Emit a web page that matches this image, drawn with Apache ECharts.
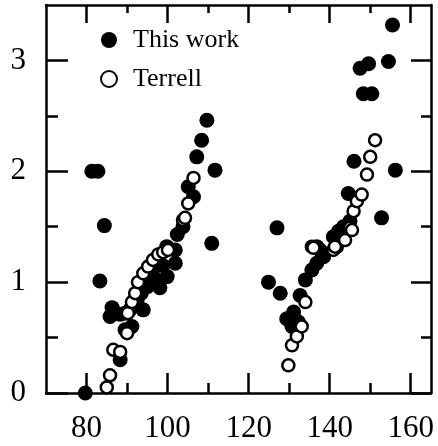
<!DOCTYPE html>
<html><head><meta charset="utf-8">
<script src="https://cdn.jsdelivr.net/npm/echarts@6/dist/echarts.min.js"></script>
<style>html,body{margin:0;padding:0;background:#fff}#c{width:438px;height:446px}</style>
</head><body><div id="c"></div>
<script>
const seriesNames = ['This work', 'Terrell'];
const xMajorTicks = [80, 100, 120, 140, 160];
const xMinorTicks = [90, 110, 130, 150];
const yMajorTicks = [0, 1, 2, 3];
const yMinorTicks = [0.5, 1.5, 2.5];

const thisWork = [
  [79.7, 0.0], [81.3, 2.0], [82.8, 2.0], [84.4, 1.51], [83.3, 1.01],
  [85.8, 0.69], [86.3, 0.77], [87.3, 0.72], [88.3, 0.71], [89.5, 0.72], [89.5, 0.57], [91.2, 0.6],
  [88.3, 0.30], [90.7, 0.75], [92.5, 0.84], [93.5, 0.9], [94.0, 0.75], [95.0, 0.96], [96.5, 1.05],
  [95.8, 1.14], [97.2, 1.0], [98.1, 0.95], [98.8, 1.15], [99.9, 1.05], [101.9, 1.17], [101.9, 1.29],
  [102.4, 1.43], [103.8, 1.5], [99.8, 1.32], [105.1, 1.86], [106.4, 1.77], [107.2, 2.13],
  [108.4, 2.28], [109.7, 2.46], [111.7, 2.01], [110.9, 1.35],
  [124.9, 1.0], [127.8, 0.9], [127.0, 1.49], [129.4, 0.67], [131.1, 0.73], [132.3, 0.64],
  [130.7, 0.6], [132.7, 0.88], [134.0, 1.02], [135.6, 1.11], [136.8, 1.17], [137.6, 1.29],
  [136.8, 1.32], [138.5, 1.23], [140.9, 1.41], [141.7, 1.32], [142.2, 1.46], [143.4, 1.5],
  [145.0, 1.55], [144.6, 1.8], [146.0, 2.09], [152.8, 1.58], [147.5, 2.93], [149.6, 2.97],
  [154.5, 2.99], [155.5, 3.32], [148.3, 2.7], [150.4, 2.7], [156.2, 2.01]
];
const terrell = [
  [85.0, 0.05], [85.8, 0.16], [86.6, 0.39], [88.3, 0.37], [90.0, 0.54], [90.2, 0.72],
  [91.2, 0.82], [92.0, 0.9], [92.7, 1.0], [94.0, 1.08], [95.2, 1.14], [96.4, 1.2], [97.7, 1.25],
  [98.9, 1.27], [100.1, 1.29], [103.8, 1.56], [104.3, 1.58], [105.1, 1.71], [106.4, 1.94],
  [129.8, 0.25], [130.7, 0.43], [131.9, 0.51], [133.1, 0.6], [134.0, 0.82], [135.6, 1.32],
  [136.0, 1.31], [140.9, 1.29], [141.3, 1.32], [143.8, 1.38], [145.0, 1.49], [145.5, 1.47],
  [145.9, 1.64], [146.7, 1.73], [147.9, 1.79], [149.2, 1.97], [150.0, 2.13], [151.2, 2.28]
];

const FONT = '"Liberation Serif", "Times New Roman", serif';
const X_MIN = 70, X_MAX = 165, Y_MIN = 0, Y_MAX = 3.5;

function xAx(pos, ticks, len, showLabel, showLine) {
  return {
    type: 'value', position: pos, min: X_MIN, max: X_MAX,
    axisLine: { show: showLine, onZero: false, lineStyle: { color: '#000', width: 2.5 } },
    axisTick: { show: true, inside: true, length: len, customValues: ticks, lineStyle: { color: '#000', width: 2.5 } },
    axisLabel: showLabel ? { show: true, customValues: ticks, color: '#000', fontFamily: FONT, fontSize: 31, margin: 20 } : { show: false },
    splitLine: { show: false }
  };
}
function yAx(pos, ticks, len, showLabel, showLine) {
  return {
    type: 'value', position: pos, min: Y_MIN, max: Y_MAX,
    axisLine: { show: showLine, onZero: false, lineStyle: { color: '#000', width: 2.5 } },
    axisTick: { show: true, inside: true, length: len, customValues: ticks, lineStyle: { color: '#000', width: 2.5 } },
    axisLabel: showLabel ? { show: true, customValues: ticks, color: '#000', fontFamily: FONT, fontSize: 31, margin: 20 } : { show: false },
    splitLine: { show: false }
  };
}

const chart = echarts.init(document.getElementById('c'), null, { renderer: 'canvas' });
chart.setOption({
  animation: false,
  backgroundColor: '#fff',
  grid: { left: 46, right: 7, top: 5, bottom: 53 },
  legend: {
    left: 95, top: 22, orient: 'vertical', itemGap: 13,
    itemWidth: 16, itemHeight: 16,
    textStyle: { color: '#000', fontFamily: FONT, fontSize: 26, padding: [2, 0, 0, 11] },
    data: seriesNames
  },
  xAxis: [
    xAx('bottom', xMajorTicks, 20, true, true),
    xAx('bottom', xMinorTicks, 10, false, false),
    xAx('top', xMajorTicks, 18, false, true),
    xAx('top', xMinorTicks, 8, false, false)
  ],
  yAxis: [
    yAx('left', yMajorTicks, 22, true, true),
    yAx('left', yMinorTicks, 12, false, false),
    yAx('right', yMajorTicks, 20, false, true),
    yAx('right', yMinorTicks, 10, false, false)
  ],
  series: [
    { name: seriesNames[0], type: 'scatter', xAxisIndex: 0, yAxisIndex: 0, data: thisWork,
      symbol: 'circle', symbolSize: 15, itemStyle: { color: '#000', opacity: 1 }, z: 2 },
    { name: seriesNames[1], type: 'scatter', xAxisIndex: 0, yAxisIndex: 0, data: terrell,
      symbol: 'circle', symbolSize: 12, itemStyle: { color: '#fff', borderColor: '#000', borderWidth: 2.5, opacity: 1 }, z: 3 }
  ]
});
</script></body></html>
